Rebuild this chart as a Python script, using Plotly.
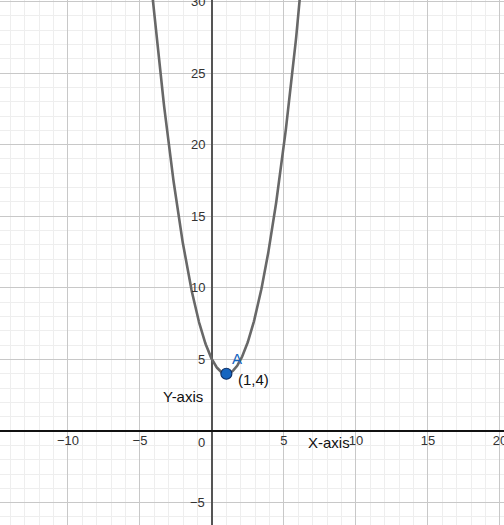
import numpy as np
import plotly.graph_objects as go

# Data
x_ticks = [-15, -10, -5, 5, 10, 15, 20]
y_ticks = [-5, 5, 10, 15, 20, 25, 30]
vertex_x = [1]
vertex_y = [4]
coef_a = 1.0   # y = a*(x-h)^2 + k
h, k = 1.0, 4.0

xs = np.linspace(-5, 7, 400)
ys = coef_a * (xs - h) ** 2 + k

def lbl(v):
    return ("\u2212" + str(-v)) if v < 0 else str(v)

tick_font = dict(family="Liberation Sans, Arial, sans-serif", size=13, color="#333333")
LABEL_DROP = 0.3  # label offset below the x-axis, in axis units

fig = go.Figure()
fig.add_trace(go.Scatter(x=xs, y=ys, mode="lines",
                         line=dict(color="#686868", width=2.6),
                         hoverinfo="skip", showlegend=False))
fig.add_trace(go.Scatter(x=vertex_x, y=vertex_y, mode="markers",
                         marker=dict(size=11, color="#1565C0",
                                     line=dict(color="#0D2F66", width=1.2)),
                         showlegend=False))
# x tick labels along the x-axis (text trace so off-range labels are still drawn)
fig.add_trace(go.Scatter(x=x_ticks, y=[-LABEL_DROP] * len(x_ticks), mode="text",
                         text=[lbl(v) for v in x_ticks], textposition="bottom center",
                         textfont=tick_font, cliponaxis=False,
                         hoverinfo="skip", showlegend=False))

ann = []
for v in y_ticks:
    ann.append(dict(x=0, y=v, xref="x", yref="y", text=lbl(v), showarrow=False,
                    xshift=-5, xanchor="right", yanchor="middle", font=tick_font))
ann.append(dict(x=0, y=0, xref="x", yref="y", text="0", showarrow=False,
                xshift=-5, yshift=-11, xanchor="right", yanchor="middle", font=tick_font))

big_font = dict(family="Liberation Sans, Arial, sans-serif", size=15, color="#111111")
ann.append(dict(x=6.5, y=0, xref="x", yref="y", text="X-axis", showarrow=False,
                xanchor="left", yanchor="middle", yshift=-11, font=big_font))
ann.append(dict(x=0, y=2.4, xref="x", yref="y", text="Y-axis", showarrow=False,
                xanchor="right", yanchor="middle", xshift=-7, font=big_font))
ann.append(dict(x=vertex_x[0], y=vertex_y[0], xref="x", yref="y", text="(1,4)", showarrow=False,
                xanchor="left", yanchor="middle", xshift=10, yshift=-6, font=big_font))
ann.append(dict(x=vertex_x[0], y=vertex_y[0], xref="x", yref="y", text="A", showarrow=False,
                xanchor="left", yanchor="middle", xshift=4, yshift=15,
                font=dict(family="Liberation Sans, Arial, sans-serif", size=15, color="#1565C0")))

fig.update_layout(
    width=504, height=525,
    margin=dict(l=0, r=0, t=0, b=0),
    paper_bgcolor="white", plot_bgcolor="white",
    annotations=ann,
    xaxis=dict(range=[-14.72, 20.28], dtick=5, tick0=0, showticklabels=False,
               ticks="", gridcolor="#C8C8C8", gridwidth=1,
               zeroline=True, zerolinecolor="#555555", zerolinewidth=1.8,
               minor=dict(dtick=1, showgrid=True, gridcolor="#EEEEEE", gridwidth=1),
               fixedrange=True),
    yaxis=dict(range=[-6.56, 30.1], dtick=5, tick0=0, showticklabels=False,
               ticks="", gridcolor="#C8C8C8", gridwidth=1,
               zeroline=True, zerolinecolor="#111111", zerolinewidth=1.8,
               minor=dict(dtick=1, showgrid=True, gridcolor="#EEEEEE", gridwidth=1),
               fixedrange=True),
)

fig.write_html("out.html", config={"displayModeBar": False},
               post_script="document.body.style.margin='0';document.body.style.overflow='hidden';")
